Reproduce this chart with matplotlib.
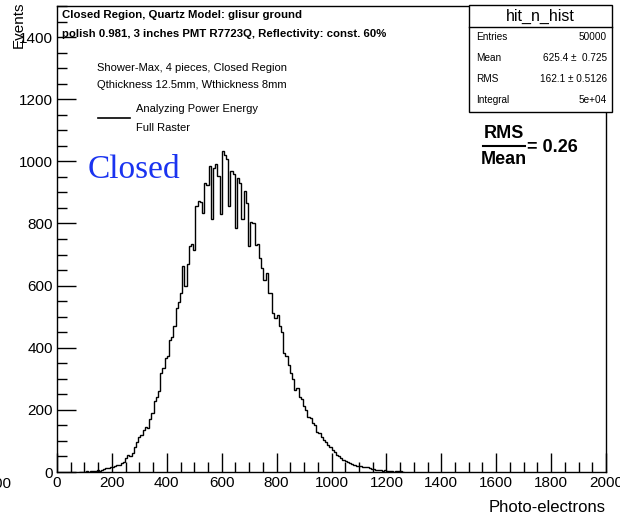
import numpy as np
import matplotlib
matplotlib.use("Agg")
import matplotlib.pyplot as plt
from matplotlib.ticker import MultipleLocator

plt.rcParams['font.family'] = ['Liberation Sans', 'DejaVu Sans']

# hit_n_hist: bins of 8 photo-electrons starting at 80 (everything else is empty)
bin_start = 80
bin_width = 8
counts = [
    0, 1, 1, 2, 1, 3, 2, 4, 5, 4,             # 80 - 152
    7, 9, 12, 14, 17, 15, 19, 23, 22, 30,     # 160 - 232
    33, 45, 55, 50, 62, 82, 95, 114, 120, 135,  # 240 - 312
    146, 142, 170, 189, 227, 243, 262, 318, 335, 367,  # 320 - 392
    372, 426, 436, 470, 529,                  # 400 - 432
    548, 575, 662, 598, 668, 727, 735, 716, 856, 872,  # 440 - 512
    868, 835, 931, 925, 985, 813, 978, 990, 952, 829,  # 520 - 592
    1033, 1020, 1006, 856, 969, 960, 787, 947, 930, 813,  # 600 - 672
    905, 867, 727, 806, 800, 732, 735, 690, 658, 619,  # 680 - 752
    640, 577, 575, 513, 497, 505, 469, 450, 384, 375,  # 760 - 832
    345, 319, 300, 265, 270, 243, 235, 211, 200, 178,  # 840 - 912
    173, 157, 152, 130, 125, 114, 103, 95, 87, 80,     # 920 - 992
    71, 65, 55, 50, 44, 40, 35, 33, 28, 25,            # 1000 - 1072
    23, 20, 19, 18, 17, 17, 15, 12, 10, 9,             # 1080 - 1152
    7, 6, 8, 4, 5, 3, 2, 4, 1, 2,                      # 1160 - 1232
    2, 2, 1,                                           # 1240 - 1256
]
edges = bin_start + bin_width * np.arange(len(counts) + 1)

stats_rows = [("Entries", "50000"), ("Mean", "625.4 \u00b1  0.725"),
              ("RMS", "162.1 \u00b1 0.5126"), ("Integral", "5e+04")]

fig = plt.figure(figsize=(6.2, 5.16), dpi=100)
W, H = 620, 516
ax = fig.add_axes([57 / W, 1 - 472 / H, (606 - 57) / W, (472 - 6) / H])

ax.stairs(counts, edges, color='black', lw=1.0)

ax.set_xlim(0, 2000)
ax.set_ylim(0, 1500)
ax.xaxis.set_major_locator(MultipleLocator(200))
ax.xaxis.set_minor_locator(MultipleLocator(50))
ax.yaxis.set_major_locator(MultipleLocator(200))
ax.yaxis.set_minor_locator(MultipleLocator(50))
ax.set_yticks(np.arange(0, 1401, 200))
ax.tick_params(which='both', direction='in', labelsize=11, width=1)
ax.tick_params(which='major', length=14, pad=3)
ax.tick_params(which='minor', length=7)
for s in ax.spines.values():
    s.set_linewidth(1)

fig.text(606 / W, 1 - 507 / H, "Photo-electrons", ha='right', va='center', fontsize=12)
fig.text(19 / W, 1 - 2 / H, "Events", rotation=90, ha='center', va='top', fontsize=11)
# leftover tick label at the very edge
fig.text(11 / W, 1 - 484 / H, "2000", ha='right', va='center', fontsize=11)

# title lines
fig.text(62 / W, 1 - 15 / H, "Closed Region, Quartz Model: glisur ground",
         fontsize=8.2, fontweight='bold', va='center')
fig.text(62 / W, 1 - 34 / H, "polish 0.981, 3 inches PMT R7723Q, Reflectivity: const. 60%",
         fontsize=8.2, fontweight='bold', va='center')

fig.text(97 / W, 1 - 68 / H, "Shower-Max, 4 pieces, Closed Region", fontsize=8, va='center')
fig.text(97 / W, 1 - 85 / H, "Qthickness 12.5mm, Wthickness 8mm", fontsize=8, va='center')

# legend
fig.add_artist(plt.Line2D([98 / W, 130 / W], [1 - 118 / H, 1 - 118 / H], color='black', lw=1.2))
fig.text(136 / W, 1 - 109 / H, "Analyzing Power Energy", fontsize=8, va='center')
fig.text(136 / W, 1 - 128 / H, "Full Raster", fontsize=8, va='center')

fig.text(88 / W, 1 - 170 / H, "Closed", color='#1a33f0', fontsize=24,
         family='Liberation Serif', va='center')

# stats box
box = plt.Rectangle((469 / W, 1 - 112 / H), (612 - 469) / W, (112 - 5) / H,
                    transform=fig.transFigure, facecolor='white', edgecolor='black', lw=1)
fig.add_artist(box)
fig.add_artist(plt.Line2D([469 / W, 612 / W], [1 - 27 / H, 1 - 27 / H], color='black', lw=1))
fig.text(540 / W, 1 - 16 / H, "hit_n_hist", ha='center', va='center', fontsize=11.5)
for i, (name, val) in enumerate(stats_rows):
    y = 1 - (37 + i * 21) / H
    fig.text(476 / W, y, name, fontsize=7.2, va='center')
    fig.text(607 / W, y, val, fontsize=7.2, va='center', ha='right')

# RMS / Mean ratio
fig.text(504 / W, 1 - 134 / H, "RMS", ha='center', va='center', fontsize=13, fontweight='bold')
fig.text(504 / W, 1 - 159 / H, "Mean", ha='center', va='center', fontsize=13, fontweight='bold')
fig.add_artist(plt.Line2D([483 / W, 525 / W], [1 - 146 / H, 1 - 146 / H], color='black', lw=1.5))
fig.text(527 / W, 1 - 147 / H, "= 0.26", va='center', fontsize=13, fontweight='bold')

fig.savefig("out.png", dpi=100)
